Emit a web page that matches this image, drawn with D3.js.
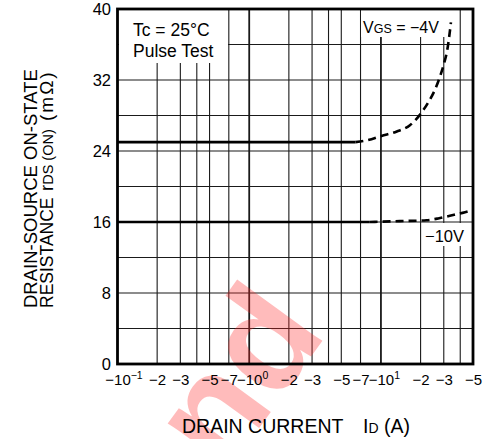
<!DOCTYPE html>
<html>
<head>
<meta charset="utf-8">
<script src="https://cdn.jsdelivr.net/npm/d3@7"></script>
<style>
  body { margin: 0; background: #fff; }
  svg { display: block; font-family: "Liberation Sans", Arial, sans-serif; }
</style>
</head>
<body>
<div id="chart"></div>
<script>
// axis setup
const xDomain = [0.1, 50];
const yDomain = [0, 40];
const xGridValues = [0.2, 0.3, 0.4, 0.5, 0.7, 1, 2, 3, 4, 5, 7, 10, 20, 30, 40];
const xDecades = [1, 10];
const xTickValues = [0.1, 0.2, 0.3, 0.5, 0.7, 1, 2, 3, 5, 7, 10, 20, 30, 50];
const xTickLabels = ["−10", "−2", "−3", "−5", "−7", "−10", "−2", "−3", "−5", "−7", "−10", "−2", "−3", "−5"];
const xTickExponents = ["−1", "", "", "", "", "0", "", "", "", "", "1", "", "", ""];
const yTickValues = [0, 8, 16, 24, 32, 40];
const yGridValues = [4, 8, 12, 16, 20, 24, 28, 32, 36];

// VGS = -4V (solid up to index 1, dashed after)
const vgs4Current    = [0.1, 6.4, 7.8, 10.1, 13.2, 16.6, 19.8, 22.7, 25.7, 28.1, 30.2, 31.9, 33.0, 34.0];
const vgs4Resistance = [25,  25,  25.2, 25.7, 26.2, 26.9, 28.1, 29.4, 30.9, 32.4, 33.9, 35.4, 36.9, 38.5];
// VGS = -10V
const vgs10Current    = [0.1, 8.2, 13.9, 22.2, 27.2, 33.4, 43.5, 50];
const vgs10Resistance = [16,  16,  16.1, 16.2, 16.4, 16.7, 17.1, 17.35];

const width = 486, height = 439;
const plot = { left: 117.5, right: 473, top: 9, bottom: 364 };

const svg = d3.select("#chart").append("svg")
    .attr("width", width)
    .attr("height", height);

const x = d3.scaleLog().domain(xDomain).range([plot.left, plot.right]);
const y = d3.scaleLinear().domain(yDomain).range([plot.bottom, plot.top]);

// grid
const grid = svg.append("g").attr("stroke", "#1a1a1a").attr("fill", "none");
grid.selectAll("line.v").data(xGridValues).join("line")
    .attr("class", "v")
    .attr("x1", d => x(d)).attr("x2", d => x(d))
    .attr("y1", plot.top).attr("y2", plot.bottom)
    .attr("stroke-width", d => xDecades.includes(d) ? 1.8 : 1.1);
grid.selectAll("line.h").data(yGridValues).join("line")
    .attr("class", "h")
    .attr("x1", plot.left).attr("x2", plot.right)
    .attr("y1", d => y(d)).attr("y2", d => y(d))
    .attr("stroke-width", 1.1);

// watermark (clipped to the page like the original)
svg.append("clipPath").attr("id", "page")
    .append("rect").attr("width", width).attr("height", height);
svg.append("g").attr("clip-path", "url(#page)")
  .append("text")
    .attr("transform", "translate(172,548) rotate(-54)")
    .attr("font-size", 145)
    .attr("font-weight", "bold")
    .attr("fill", "#ff2a2a")
    .attr("fill-opacity", 0.32)
    .text("und");

// label boxes
function labelBox(x0, y0, w, h) {
    svg.append("rect").attr("x", x0).attr("y", y0).attr("width", w).attr("height", h).attr("fill", "#fff");
}
labelBox(119, plot.top, 109, 54);
labelBox(361, plot.top, 87, 28);
labelBox(422, 223, 46, 23);

svg.append("text").attr("x", 133).attr("y", 36).attr("font-size", 17.5).text("Tc = 25°C");
svg.append("text").attr("x", 133).attr("y", 57).attr("font-size", 17.5).text("Pulse Test");

const vgsLabel = svg.append("text").attr("x", 363).attr("y", 33).attr("font-size", 16);
vgsLabel.append("tspan").text("V");
vgsLabel.append("tspan").attr("font-size", 12.5).text("GS");
vgsLabel.append("tspan").text(" = −4V");

svg.append("text").attr("x", 425).attr("y", 242).attr("font-size", 16.5).text("−10V");

// curves
const line = d3.line()
    .x(d => x(d[0]))
    .y(d => y(d[1]))
    .curve(d3.curveMonotoneX);

function drawSeries(current, resistance, solidEnd) {
    const pts = current.map((c, i) => [c, resistance[i]]);
    svg.append("path")
        .attr("d", line(pts.slice(0, solidEnd + 1)))
        .attr("fill", "none").attr("stroke", "#000").attr("stroke-width", 2.6);
    svg.append("path")
        .attr("d", line(pts.slice(solidEnd)))
        .attr("fill", "none").attr("stroke", "#000").attr("stroke-width", 2.6)
        .attr("stroke-dasharray", "8,5");
}
drawSeries(vgs4Current, vgs4Resistance, 1);
drawSeries(vgs10Current, vgs10Resistance, 1);

// border
svg.append("rect")
    .attr("x", plot.left).attr("y", plot.top)
    .attr("width", plot.right - plot.left).attr("height", plot.bottom - plot.top)
    .attr("fill", "none").attr("stroke", "#000").attr("stroke-width", 2.8);

// x axis
const xAxis = svg.append("g")
    .attr("transform", `translate(0,${plot.bottom})`)
    .call(d3.axisBottom(x).tickValues(xTickValues).tickSize(0).tickFormat((d, i) => xTickLabels[i]));
xAxis.select(".domain").remove();
xAxis.selectAll("text")
    .attr("y", 21).attr("dy", 0)
    .attr("font-size", 15)
    .attr("font-family", "Liberation Sans, Arial, sans-serif")
    .attr("fill", "#000")
    .each(function(d, i) {
        const exp = xTickExponents[i];
        if (!exp) return;
        const t = d3.select(this);
        const sup = t.append("tspan").attr("font-size", 10.5).attr("dy", -6).text(exp);
        const w = sup.node().getComputedTextLength();
        t.attr("x", w / 2);
    });

// y axis
const yAxis = svg.append("g")
    .attr("transform", `translate(${plot.left},0)`)
    .call(d3.axisLeft(y).tickValues(yTickValues).tickSize(0).tickPadding(6.5));
yAxis.select(".domain").remove();
yAxis.selectAll("text")
    .attr("font-size", 16.5)
    .attr("font-family", "Liberation Sans, Arial, sans-serif")
    .attr("fill", "#000");

// axis titles
const xTitle = svg.append("text").attr("x", 182).attr("y", 432.5).attr("font-size", 19.5);
xTitle.append("tspan").text("DRAIN CURRENT");
xTitle.append("tspan").attr("x", 363).text("I");
xTitle.append("tspan").attr("font-size", 14).text("D");
xTitle.append("tspan").text(" (A)");

const yTitle = svg.append("g").attr("transform", "translate(0,308) rotate(-90)");
yTitle.append("text").attr("x", 0).attr("y", 36.5).attr("font-size", 18.5).text("DRAIN-SOURCE ON-STATE");
const yTitle2 = yTitle.append("text").attr("y", 53).attr("font-size", 17.5);
yTitle2.append("tspan").attr("x", 0).text("RESISTANCE");
yTitle2.append("tspan").attr("x", 117).attr("font-size", 18.5).text("r");
yTitle2.append("tspan").attr("font-size", 14.5).text("DS (ON)");
yTitle2.append("tspan").attr("x", 187).attr("font-size", 19).attr("letter-spacing", 2).text("(mΩ)");
</script>
</body>
</html>
